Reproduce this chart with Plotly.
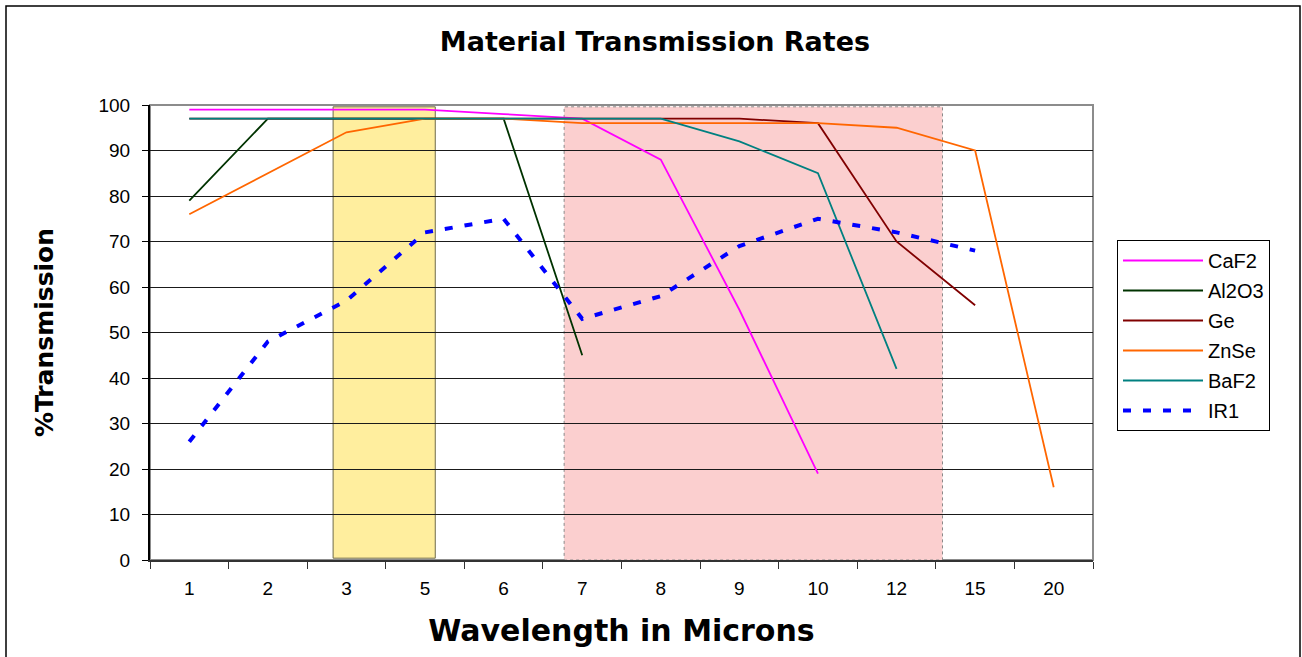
import plotly.graph_objects as go

# ---- data ----
wavelengths = ["1", "2", "3", "5", "6", "7", "8", "9", "10", "12", "15", "20"]
caf2  = [99, 99, 99, 99, 98, 97, 88, 55, 19, None, None, None]
al2o3 = [79, 97, 97, 97, 97, 45, None, None, None, None, None, None]
ge    = [97, 97, 97, 97, 97, 97, 97, 97, 96, 70, 56, None]
znse  = [76, 85, 94, 97, 97, 96, 96, 96, 96, 95, 90, 16]
baf2  = [97, 97, 97, 97, 97, 97, 97, 92, 85, 42, None, None]
ir1   = [26, 48, 57, 72, 75, 53, 58, 69, 75, 72, 68, None]

series_names = ["CaF2", "Al2O3", "Ge", "ZnSe", "BaF2", "IR1"]
series_values = [caf2, al2o3, ge, znse, baf2, ir1]
series_colors = ["#FF00FF", "#003300", "#800000", "#FF6600", "#008080", "#0000FF"]

# highlighted wavelength bands (in category-index units) and their y extent
yellow_band = (1.83, 3.13, 0.4, 99.6)
pink_band = (4.77, 9.585, 0.0, 99.6)

FONT = "Liberation Sans, Arial, sans-serif"
BOLD = "DejaVu Sans, sans-serif"

fig = go.Figure()
for i, (name, vals, col) in enumerate(zip(series_names, series_values, series_colors)):
    if name == "IR1":
        line = dict(color=col, width=4, dash="8px,12px")
    else:
        line = dict(color=col, width=1.8)
    fig.add_trace(go.Scatter(
        x=wavelengths, y=vals, name=name, mode="lines", line=line,
        connectgaps=False, legendgroup=f"g{i}",
    ))

shapes = []
x0, x1, y0, y1 = yellow_band
shapes.append(dict(type="rect", xref="x", yref="y", x0=x0, x1=x1, y0=y0, y1=y1,
                   fillcolor="#FFEE9E", line=dict(color="#6E6A4A", width=1), layer="below"))
x0, x1, y0, y1 = pink_band
shapes.append(dict(type="rect", xref="x", yref="y", x0=x0, x1=x1, y0=y0, y1=y1,
                   fillcolor="#FBCFCF", line=dict(color="#8A8A8A", width=1, dash="dot"), layer="below"))
# plot-area frame (top / right grey)
shapes.append(dict(type="rect", xref="paper", yref="paper", x0=0, x1=1, y0=0, y1=1,
                   line=dict(color="#8C8C8C", width=2), fillcolor="rgba(0,0,0,0)", layer="below"))
# outer chart border
shapes.append(dict(type="rect", xref="paper", yref="paper",
                   x0=(6 - 150) / 943, x1=(1300 - 150) / 943,
                   y0=-0.3, y1=(560 - 6) / 455,
                   line=dict(color="#000000", width=1.5), fillcolor="rgba(0,0,0,0)"))

fig.update_layout(
    width=1302, height=657,
    margin=dict(l=150, r=209, t=105, b=97),
    paper_bgcolor="white", plot_bgcolor="white",
    font=dict(family=FONT, color="#000000", size=18),
    title=dict(text="<b>Material Transmission Rates</b>", x=655 / 1302, xanchor="center",
               y=1 - 42 / 657, yanchor="middle",
               font=dict(family=BOLD, size=27, color="#000")),
    shapes=shapes,
    showlegend=True,
    legend=dict(x=(1117 - 150) / 943, xanchor="left", y=(560 - 240) / 455, yanchor="top",
                bgcolor="white", bordercolor="#000000", borderwidth=1,
                font=dict(family=FONT, size=20, color="#000"),
                itemwidth=80, tracegroupgap=1, traceorder="grouped"),
    xaxis=dict(
        type="category", categoryorder="array", categoryarray=wavelengths,
        range=[-0.5, len(wavelengths) - 0.5],
        tickson="boundaries", ticks="outside", ticklen=7, tickcolor="#333",
        showline=True, linecolor="#333", linewidth=2,
        showgrid=False, zeroline=False, ticklabelstandoff=10,
        tickfont=dict(family=FONT, size=19),
        title=dict(text="<b>Wavelength in Microns</b>", standoff=22,
                   font=dict(family=BOLD, size=30)),
    ),
    yaxis=dict(
        range=[0, 100], tickmode="linear", tick0=0, dtick=10,
        ticks="outside", ticklen=6, tickcolor="#000",
        showline=True, linecolor="#000", linewidth=2, ticklabelstandoff=8,
        showgrid=True, gridcolor="#1a1a1a", gridwidth=1, zeroline=False,
        tickfont=dict(family=FONT, size=19),
        title=dict(text="<b>%Transmission</b>", standoff=38,
                   font=dict(family=BOLD, size=25)),
    ),
)

fig.write_html("out.html", config={"displayModeBar": False},
               post_script="document.body.style.margin='0px';")
